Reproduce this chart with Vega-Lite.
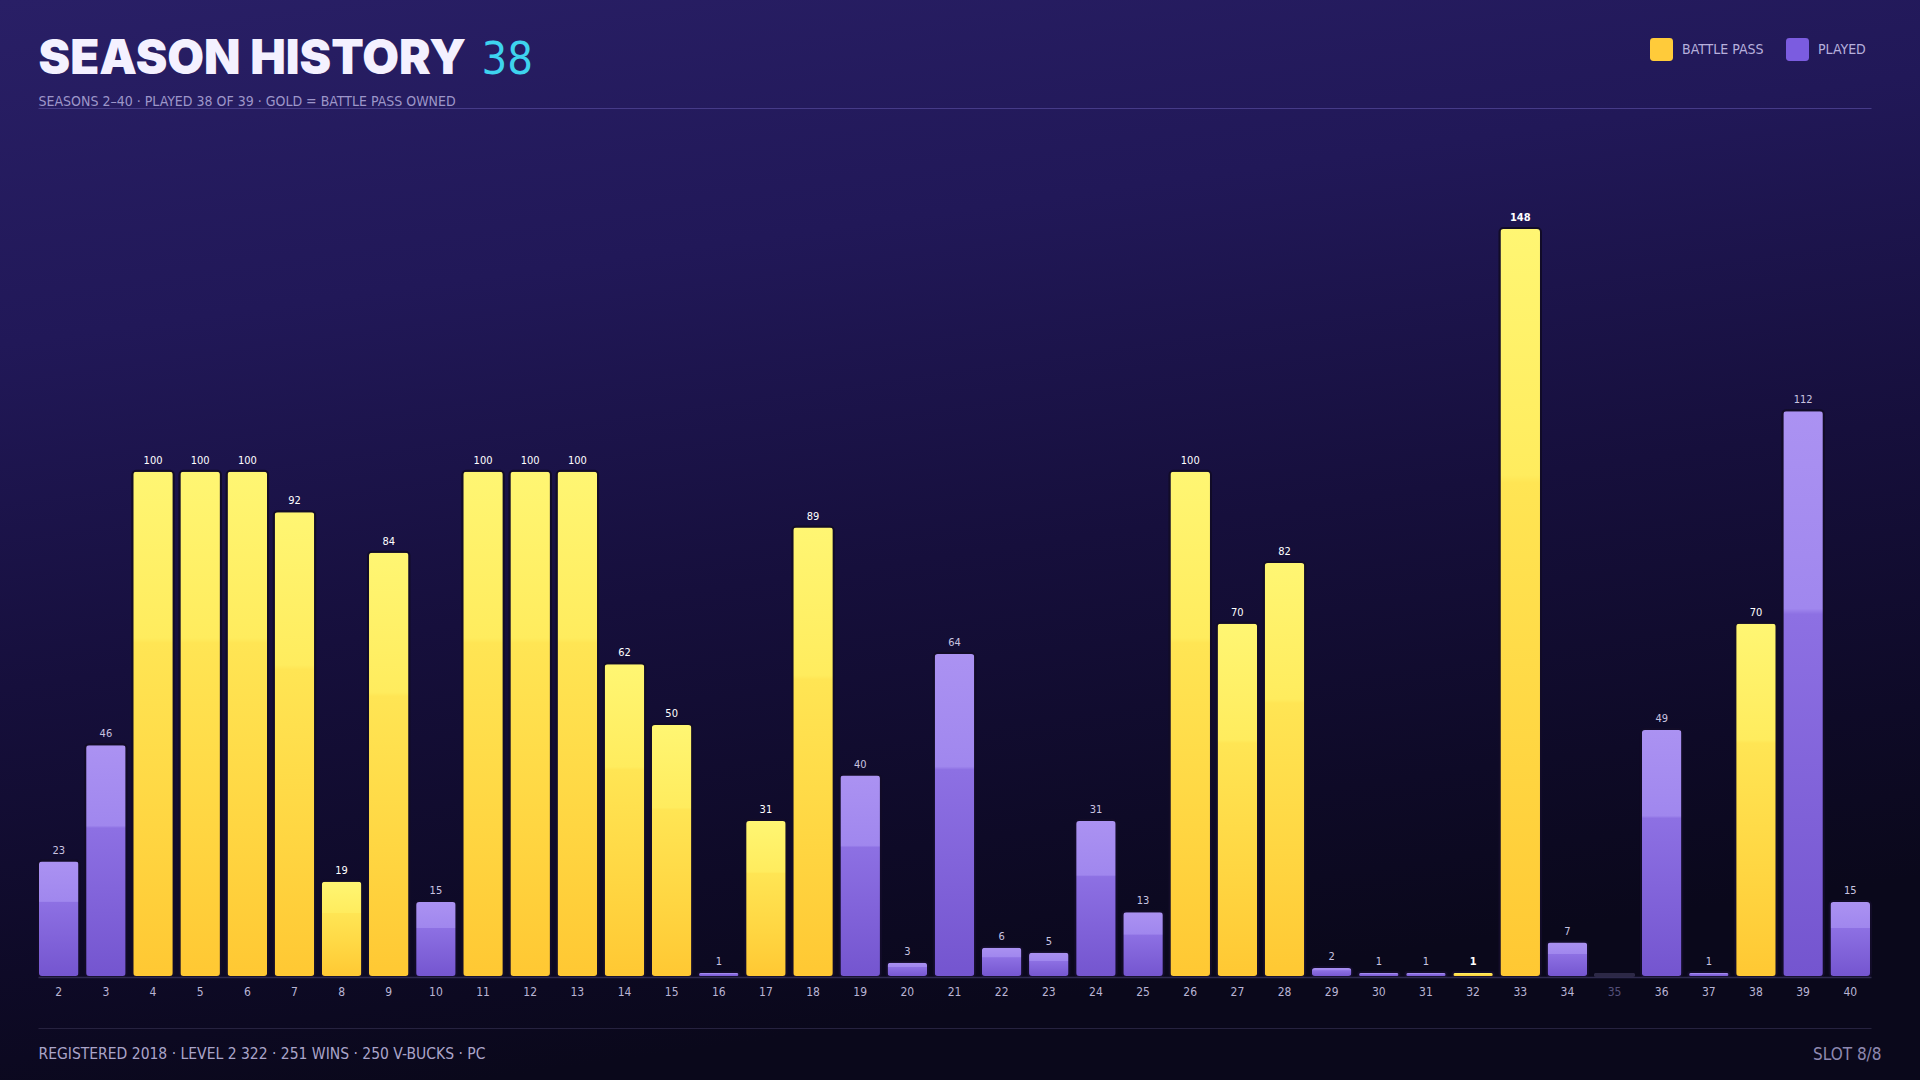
{
  "$schema": "https://vega.github.io/schema/vega-lite/v6.json",
  "description": "Season history: battle pass level per season, gold = battle pass owned, purple = played only.",
  "width": 1920,
  "height": 1080,
  "autosize": "none",
  "padding": 0,
  "background": "#0c0a20",
  "data": {
    "values": [
      {"season": 2, "value": 23, "kind": "PLAYED", "hl": 0},
      {"season": 3, "value": 46, "kind": "PLAYED", "hl": 0},
      {"season": 4, "value": 100, "kind": "BATTLE PASS", "hl": 0},
      {"season": 5, "value": 100, "kind": "BATTLE PASS", "hl": 0},
      {"season": 6, "value": 100, "kind": "BATTLE PASS", "hl": 0},
      {"season": 7, "value": 92, "kind": "BATTLE PASS", "hl": 0},
      {"season": 8, "value": 19, "kind": "BATTLE PASS", "hl": 0},
      {"season": 9, "value": 84, "kind": "BATTLE PASS", "hl": 0},
      {"season": 10, "value": 15, "kind": "PLAYED", "hl": 0},
      {"season": 11, "value": 100, "kind": "BATTLE PASS", "hl": 0},
      {"season": 12, "value": 100, "kind": "BATTLE PASS", "hl": 0},
      {"season": 13, "value": 100, "kind": "BATTLE PASS", "hl": 0},
      {"season": 14, "value": 62, "kind": "BATTLE PASS", "hl": 0},
      {"season": 15, "value": 50, "kind": "BATTLE PASS", "hl": 0},
      {"season": 16, "value": 1, "kind": "PLAYED", "hl": 0},
      {"season": 17, "value": 31, "kind": "BATTLE PASS", "hl": 0},
      {"season": 18, "value": 89, "kind": "BATTLE PASS", "hl": 0},
      {"season": 19, "value": 40, "kind": "PLAYED", "hl": 0},
      {"season": 20, "value": 3, "kind": "PLAYED", "hl": 0},
      {"season": 21, "value": 64, "kind": "PLAYED", "hl": 0},
      {"season": 22, "value": 6, "kind": "PLAYED", "hl": 0},
      {"season": 23, "value": 5, "kind": "PLAYED", "hl": 0},
      {"season": 24, "value": 31, "kind": "PLAYED", "hl": 0},
      {"season": 25, "value": 13, "kind": "PLAYED", "hl": 0},
      {"season": 26, "value": 100, "kind": "BATTLE PASS", "hl": 0},
      {"season": 27, "value": 70, "kind": "BATTLE PASS", "hl": 0},
      {"season": 28, "value": 82, "kind": "BATTLE PASS", "hl": 0},
      {"season": 29, "value": 2, "kind": "PLAYED", "hl": 0},
      {"season": 30, "value": 1, "kind": "PLAYED", "hl": 0},
      {"season": 31, "value": 1, "kind": "PLAYED", "hl": 0},
      {"season": 32, "value": 1, "kind": "BATTLE PASS", "hl": 1},
      {"season": 33, "value": 148, "kind": "BATTLE PASS", "hl": 1},
      {"season": 34, "value": 7, "kind": "PLAYED", "hl": 0},
      {"season": 35, "value": 0, "kind": "NONE", "hl": 0, "stub": 0.8},
      {"season": 36, "value": 49, "kind": "PLAYED", "hl": 0},
      {"season": 37, "value": 1, "kind": "PLAYED", "hl": 0},
      {"season": 38, "value": 70, "kind": "BATTLE PASS", "hl": 0},
      {"season": 39, "value": 112, "kind": "PLAYED", "hl": 0},
      {"season": 40, "value": 15, "kind": "PLAYED", "hl": 0}
    ]
  },
  "layer": [
    {
      "data": {"values": [{"bg": 1}]},
      "mark": {
        "type": "rect",
        "fill": {
          "gradient": "linear", "x1": 0, "y1": 0, "x2": 0.25, "y2": 1,
          "stops": [
            {"offset": 0, "color": "#291f66"},
            {"offset": 0.3, "color": "#211858"},
            {"offset": 0.6, "color": "#160f3c"},
            {"offset": 0.85, "color": "#0e0a27"},
            {"offset": 1, "color": "#0a081b"}
          ]
        }
      },
      "encoding": {}
    },
    {
      "transform": [{"filter": "datum.kind == 'BATTLE PASS'"}],
      "mark": {
        "type": "bar",
        "cornerRadius": 4,
        "stroke": "#120c28",
        "strokeWidth": 2,
        "fill": {
          "gradient": "linear", "x1": 0, "y1": 0, "x2": 0, "y2": 1,
          "stops": [
            {"offset": 0, "color": "#fff673"},
            {"offset": 0.33, "color": "#ffec5e"},
            {"offset": 0.34, "color": "#ffe554"},
            {"offset": 0.7, "color": "#ffd642"},
            {"offset": 1, "color": "#ffc833"}
          ]
        }
      },
      "encoding": {
        "x": {
          "field": "season", "type": "ordinal",
          "scale": {"range": [38, 1871], "paddingInner": 0.12, "paddingOuter": 0},
          "axis": {
            "orient": "bottom", "offset": -103, "title": null, "ticks": false, "grid": false, "zindex": 1,
            "domainColor": "#2e2a4e", "domainWidth": 1.5,
            "labelAngle": 0, "labelFontSize": 12, "labelPadding": 9,
            "labelColor": {"condition": {"test": "datum.value == 35", "value": "#55507a"}, "value": "#b9b4d4"}
          }
        },
        "y": {
          "field": "value", "type": "quantitative",
          "scale": {"domain": [0, 163], "range": [977, 152], "nice": false},
          "axis": {
            "orient": "left", "labels": false, "ticks": false, "domain": false, "grid": false, "zindex": 1,
            "title": "SEASON HISTORY", "titleAngle": 0, "titleX": 38, "titleY": 73,
            "titleAlign": "left", "titleBaseline": "alphabetic",
            "titleFont": "Inter", "titleFontWeight": 900, "titleFontSize": 47.5, "titleColor": "#f4f1ff"
          }
        }
      }
    },
    {
      "transform": [{"filter": "datum.kind == 'PLAYED'"}],
      "mark": {
        "type": "bar",
        "cornerRadius": 4,
        "stroke": "#120c28",
        "strokeWidth": 2,
        "fill": {
          "gradient": "linear", "x1": 0, "y1": 0, "x2": 0, "y2": 1,
          "stops": [
            {"offset": 0, "color": "#ab92f2"},
            {"offset": 0.35, "color": "#a087ee"},
            {"offset": 0.36, "color": "#8d70e3"},
            {"offset": 1, "color": "#7455cf"}
          ]
        }
      },
      "encoding": {
        "x": {
          "field": "season", "type": "ordinal",
          "axis": {
            "orient": "top", "offset": -108, "labels": false, "ticks": false, "grid": false, "zindex": 1,
            "domainColor": "#463b88", "domainWidth": 1,
            "title": "SLOT 8/8", "titleX": 1881, "titleY": 946, "titleAlign": "right", "titleBaseline": "middle",
            "titleFontSize": 17, "titleFontWeight": "normal", "titleColor": "#8e88b0"
          }
        },
        "y": {
          "field": "value", "type": "quantitative",
          "axis": {
            "orient": "left", "labels": false, "ticks": false, "domain": false, "grid": false, "zindex": 1,
            "title": "SEASONS 2–40  ·  PLAYED 38 OF 39  ·  GOLD = BATTLE PASS OWNED",
            "titleAngle": 0, "titleX": 38, "titleY": 101, "titleAlign": "left", "titleBaseline": "middle",
            "titleFontSize": 14, "titleFontWeight": "normal", "titleColor": "#9d96c9"
          }
        }
      }
    },
    {
      "transform": [{"filter": "datum.kind == 'NONE'"}],
      "mark": {"type": "bar", "cornerRadius": 2, "fill": "#2c2846"},
      "encoding": {
        "x": {
          "field": "season", "type": "ordinal",
          "axis": {
            "orient": "bottom", "offset": -52, "labels": false, "ticks": false, "grid": false, "zindex": 1,
            "domainColor": "#26223f", "domainWidth": 1,
            "title": "REGISTERED 2018  ·  LEVEL 2 322  ·  251 WINS  ·  250 V-BUCKS  ·  PC",
            "titleX": 38, "titleY": 25, "titleAlign": "left", "titleBaseline": "middle",
            "titleFontSize": 15.5, "titleFontWeight": "normal", "titleColor": "#aaa4c9"
          }
        },
        "y": {
          "field": "stub", "type": "quantitative",
          "axis": {
            "orient": "left", "labels": false, "ticks": false, "domain": false, "grid": false, "zindex": 1,
            "title": "38", "titleAngle": 0, "titleX": 481, "titleY": 73,
            "titleAlign": "left", "titleBaseline": "alphabetic",
            "titleFontSize": 45, "titleFontWeight": "normal", "titleColor": "#3ed3ee"
          }
        }
      }
    },
    {
      "transform": [{"filter": "datum.value > 0 && datum.hl == 0"}],
      "mark": {"type": "text", "baseline": "bottom", "dy": -5, "fontSize": 11},
      "encoding": {
        "x": {"field": "season", "type": "ordinal", "axis": null},
        "y": {"field": "value", "type": "quantitative", "axis": null},
        "text": {"field": "value", "type": "quantitative"},
        "color": {
          "condition": {"test": "datum.kind == 'BATTLE PASS'", "value": "#ffffff"},
          "value": "#c9c4e0"
        }
      }
    },
    {
      "transform": [{"filter": "datum.hl == 1"}],
      "mark": {"type": "text", "baseline": "bottom", "dy": -5, "fontSize": 11, "fontWeight": "bold", "color": "#ffffff"},
      "encoding": {
        "x": {"field": "season", "type": "ordinal", "axis": null},
        "y": {"field": "value", "type": "quantitative", "axis": null},
        "text": {"field": "value", "type": "quantitative"}
      }
    },
    {
      "transform": [{"filter": "datum.season < 0"}],
      "mark": {"type": "square", "filled": true, "opacity": 1},
      "encoding": {
        "color": {
          "field": "kind", "type": "nominal",
          "scale": {"domain": ["BATTLE PASS", "PLAYED"], "range": ["#ffcb3a", "#7b5ce0"]},
          "legend": {
            "title": null, "orient": "none", "legendX": 1650, "legendY": 38,
            "direction": "horizontal",
            "symbolType": "M -0.7,-1 H 0.7 Q 1,-1 1,-0.7 V 0.7 Q 1,1 0.7,1 H -0.7 Q -1,1 -1,0.7 V -0.7 Q -1,-1 -0.7,-1 Z",
            "symbolSize": 529, "symbolOpacity": 1, "symbolStrokeWidth": 0,
            "labelFontSize": 14, "labelColor": "#b7b0dc", "labelOffset": 9,
            "columnPadding": 22
          }
        }
      }
    }
  ],
  "resolve": {"axis": {"x": "independent", "y": "independent"}},
  "config": {
    "font": "DejaVu Sans Condensed, Roboto, sans-serif",
    "view": {"stroke": null},
    "axis": {"labelFont": "DejaVu Sans Condensed, Roboto, sans-serif", "titleFont": "DejaVu Sans Condensed, Roboto, sans-serif"},
    "legend": {"labelFont": "DejaVu Sans Condensed, Roboto, sans-serif"},
    "text": {"font": "DejaVu Sans Condensed, Roboto, sans-serif"}
  }
}
